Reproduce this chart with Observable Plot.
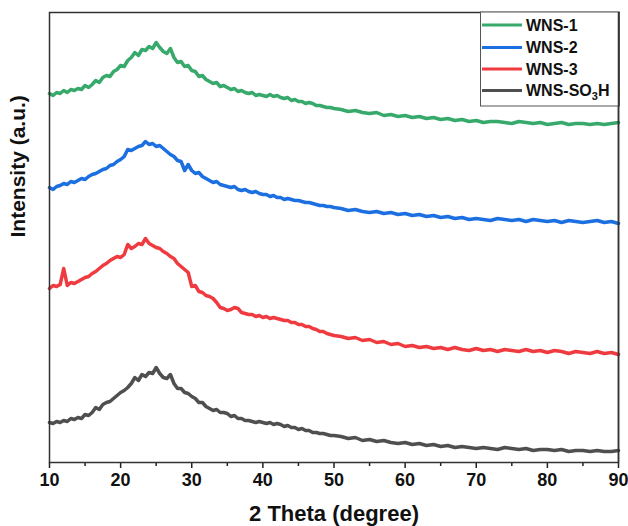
<!DOCTYPE html>
<html>
<head>
<meta charset="utf-8">
<script src="https://cdn.jsdelivr.net/npm/d3@7"></script>
<script src="https://cdn.jsdelivr.net/npm/@observablehq/plot@0.6"></script>
<style>
  html, body { margin: 0; padding: 0; background: #fff; }
  #chart { width: 628px; height: 526px; }
</style>
</head>
<body>
<div id="chart"></div>
<script>
// 2 Theta positions (degree)
const twoTheta = [
  10,10.5,11,11.5,12,12.5,13,13.5,14,14.5,
  15,15.5,16,16.5,17,17.5,18,18.5,19,19.5,
  20,20.5,21,21.5,22,22.5,23,23.5,24,24.5,
  25,25.5,26,26.5,27,27.5,28,28.5,29,29.5,
  30,30.5,31,31.5,32,32.5,33,33.5,34,34.5,
  35,35.5,36,36.5,37,37.5,38,38.5,39,39.5,
  40,40.5,41,41.5,42,42.5,43,43.5,44,44.5,
  45,45.5,46,46.5,47,47.5,48,48.5,49,49.5,
  50,
  51,52,53,54,55,56,57,58,59,60,
  61,62,63,64,65,66,67,68,69,70,
  71,72,73,74,75,76,77,78,79,80,
  81,82,83,84,85,86,87,88,89,90
];

// Intensities (a.u., stacked with offsets as in the figure)
const wns1 = [
  369,367,370,369,372,370,373,372,374,373,
  377,375,378,382,380,385,387,386,391,393,
  397,396,402,405,410,407,413,412,416,414,
  420,415,411,409,414,405,400,401,396,397,
  392,391,386,387,383,381,379,380,376,377,
  375,373,374,371,372,370,369,370,367,368,
  367,366,368,366,367,365,364,365,362,363,
  361,361,359,360,359,357,357,356,355,355,
  354,
  353,351,352,350,349,350,347,348,346,347,
  345,346,344,345,343,344,342,343,341,342,
  340,341,341,340,339,341,340,339,340,338,
  339,340,338,339,339,338,339,338,339,340
];
const wns2 = [
  275,273,276,277,279,278,281,280,282,284,
  283,286,288,289,291,293,294,297,298,301,
  303,306,313,312,314,316,317,321,318,319,
  316,317,314,311,308,306,302,301,292,298,
  292,289,290,286,284,282,280,281,278,277,
  276,275,276,273,272,273,271,270,271,269,
  268,268,266,267,265,265,263,264,263,262,
  262,261,260,260,259,258,257,257,256,256,
  255,
  254,252,253,251,250,251,249,250,248,249,
  247,248,246,247,245,246,244,245,243,244,
  243,242,244,243,242,243,241,243,242,241,
  242,240,242,241,240,241,242,240,241,239
];
const wns3 = [
  174,177,176,178,194,177,180,179,181,183,
  185,186,189,191,194,197,199,202,204,206,
  205,208,218,214,216,219,218,224,219,217,
  215,214,211,209,206,204,199,196,193,190,
  176,177,171,170,167,166,164,160,155,154,
  152,153,155,154,150,149,148,148,146,147,
  145,146,144,145,144,143,142,142,140,140,
  138,138,136,136,134,133,131,131,129,128,
  127,
  126,124,125,122,123,120,121,118,119,116,
  117,115,116,114,115,113,115,113,112,114,
  112,113,111,113,112,111,113,111,112,110,
  112,111,109,111,110,109,111,109,110,108
];
const wnsSO3H = [
  40,39,41,40,42,41,44,43,45,44,
  48,47,50,55,53,58,60,61,64,67,
  70,72,75,79,85,82,88,86,90,89,
  95,89,85,84,88,79,74,74,70,69,
  66,64,60,60,56,54,52,53,50,50,
  49,46,47,44,44,42,42,41,40,41,
  40,39,40,38,39,38,36,37,35,35,
  33,34,32,32,30,30,29,29,28,27,
  27,
  26,24,25,22,23,21,22,20,19,20,
  18,19,17,18,16,17,15,16,15,14,
  15,14,13,15,14,13,14,12,13,13,
  12,13,11,12,12,11,12,11,11,12
];

const seriesNames = ["WNS-1", "WNS-2", "WNS-3", "WNS-SO3H"];
const seriesColors = ["#36a96b", "#1b6fe0", "#ef3b3f", "#4f4f4f"];
const xMajorTicks = [10, 20, 30, 40, 50, 60, 70, 80, 90];
const xMinorTicks = [15, 25, 35, 45, 55, 65, 75, 85];
const xLabel = "2 Theta (degree)";
const yLabel = "Intensity (a.u.)";

const allSeries = [wns1, wns2, wns3, wnsSO3H];
const rows = [];
allSeries.forEach((vals, i) => {
  vals.forEach((v, j) => rows.push({x: twoTheta[j], y: v, s: seriesNames[i]}));
});

const font = "'Liberation Sans', Arial, Helvetica, sans-serif";

const chart = Plot.plot({
  width: 628,
  height: 526,
  marginLeft: 49,
  marginRight: 10,
  marginTop: 12,
  marginBottom: 64,
  style: {fontFamily: font, fontWeight: "bold", background: "#fff", overflow: "visible"},
  x: {domain: [10, 90]},
  y: {domain: [0, 450], axis: null},
  color: {domain: seriesNames, range: seriesColors},
  marks: [
    Plot.line(rows, {x: "x", y: "y", z: "s", stroke: "s", strokeWidth: 3.5, strokeLinejoin: "round"}),
    Plot.axisX({ticks: xMinorTicks, tickSize: 4, tickFormat: () => "", stroke: "#222", strokeWidth: 1.5, label: null}),
    Plot.axisX({ticks: xMajorTicks, tickSize: 6, tickPadding: 5, fontSize: 18, fill: "#111", stroke: "#222", strokeWidth: 1.5, label: null}),
    Plot.frame({stroke: "#333", strokeWidth: 1.5}),
    Plot.text([xLabel], {frameAnchor: "bottom", dy: 51, fontSize: 22, fontWeight: "bold", fill: "#111", lineAnchor: "middle"}),
    Plot.text([yLabel], {frameAnchor: "left", dx: -31, rotate: -90, fontSize: 21, fontWeight: "bold", fill: "#111", lineAnchor: "middle"})
  ]
});

// Legend box (top-right, inside the frame)
const svg = d3.select(chart);
const lg = svg.append("g").attr("font-family", font).attr("font-weight", "bold").attr("text-anchor", "start");
lg.append("rect").attr("x", 480.5).attr("y", 12).attr("width", 139).attr("height", 94)
  .attr("fill", "#fff").attr("stroke", "#555").attr("stroke-width", 1);
const itemY = [25, 47.5, 69, 90.5];
seriesNames.forEach((name, i) => {
  lg.append("line").attr("x1", 482).attr("x2", 522).attr("y1", itemY[i]).attr("y2", itemY[i])
    .attr("stroke", seriesColors[i]).attr("stroke-width", 3);
  const t = lg.append("text").attr("x", 526).attr("y", itemY[i]).attr("dy", "0.36em")
    .attr("text-anchor", "start").attr("font-size", 16).attr("fill", "#111");
  if (name === "WNS-SO3H") {
    t.append("tspan").text("WNS-SO");
    t.append("tspan").attr("font-size", 11).attr("dy", 4).text("3");
    t.append("tspan").attr("dy", -4).text("H");
  } else {
    t.text(name);
  }
});
// redraw right frame edge on top of legend box
svg.append("line").attr("x1", 618.5).attr("x2", 618.5).attr("y1", 12).attr("y2", 462)
  .attr("stroke", "#333").attr("stroke-width", 1.5);

document.getElementById("chart").appendChild(chart);
</script>
</body>
</html>
